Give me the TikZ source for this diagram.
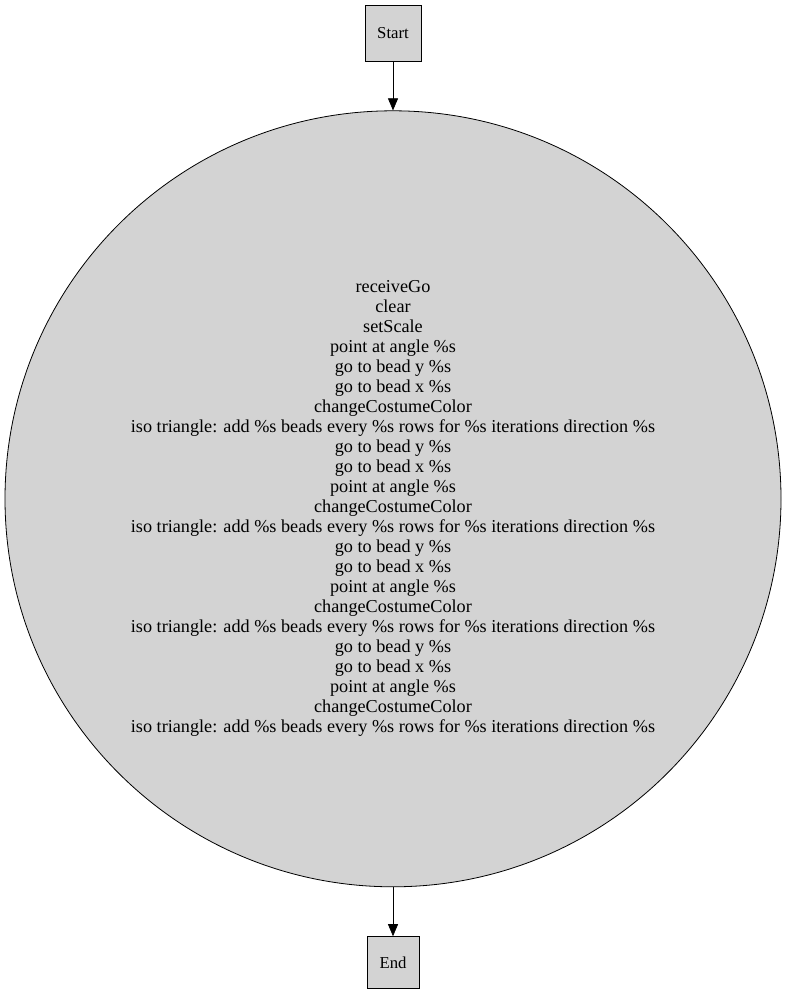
\documentclass[tikz,border=0pt]{standalone}
\usepackage{fontspec}
\setmainfont{Liberation Serif}
\usetikzlibrary{positioning,arrows.meta}
\definecolor{nodegray}{HTML}{D3D3D3}

\begin{document}
\begin{tikzpicture}[x=1pt, y=1pt, node distance=49pt, >={Triangle[length=12pt,width=10pt]},
                    thick,
                    box node/.style={rectangle,draw,fill=nodegray,inner sep=0pt,font=\fontsize{16.7}{20}\selectfont},
                    main node/.style={circle,draw,fill=nodegray,inner sep=0pt,minimum size=776pt},
                    text block/.style={align=center,inner sep=0pt,font=\fontsize{18.2}{20}\selectfont}]

  \useasboundingbox (0,0) rectangle (787,-992);

  \node[box node,minimum size=56pt] (start) at (393,-33) {Start};
  \node[main node] (loop) [below=of start] {};
  \node[text block] (steps) at ([yshift=-10pt]loop.center) {receiveGo\\clear\\setScale\\point at angle \%s\\go to bead y \%s\\go to bead x \%s\\changeCostumeColor\\iso triangle: add \%s beads every \%s rows for \%s iterations direction \%s\\go to bead y \%s\\go to bead x \%s\\point at angle \%s\\changeCostumeColor\\iso triangle: add \%s beads every \%s rows for \%s iterations direction \%s\\go to bead y \%s\\go to bead x \%s\\point at angle \%s\\changeCostumeColor\\iso triangle: add \%s beads every \%s rows for \%s iterations direction \%s\\go to bead y \%s\\go to bead x \%s\\point at angle \%s\\changeCostumeColor\\iso triangle: add \%s beads every \%s rows for \%s iterations direction \%s};
  \node[box node,minimum size=52pt] (end) [below=of loop] {End};

  \path[->, semithick]
    (start) edge (loop)
    (loop) edge (end);

\end{tikzpicture}
\end{document}
